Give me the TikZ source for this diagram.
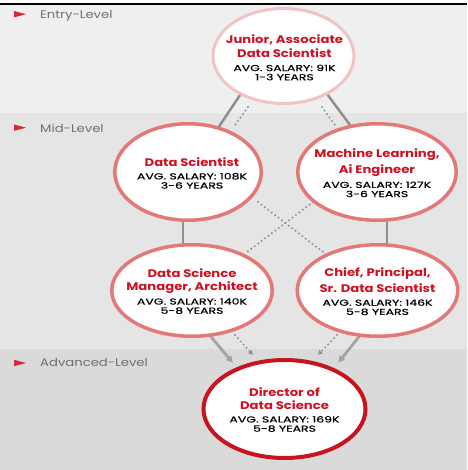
\documentclass[tikz,border=0pt]{standalone}
\usepackage{fontspec}
\setmainfont{Poppins}
\newfontfamily\infofont[FakeBold=0.5]{Poppins}
\usepackage{graphicx}
\usetikzlibrary{shapes.geometric,calc,arrows.meta}
\definecolor{tred}{HTML}{CC1122}
\definecolor{tri}{HTML}{D62B35}
\definecolor{lvltxt}{HTML}{707070}
\definecolor{entrybg}{HTML}{EFEFEF}
\definecolor{midbg}{HTML}{E5E5E5}
\definecolor{advbg}{HTML}{DADADA}
\definecolor{jrline}{HTML}{F0C4C4}
\definecolor{midline}{HTML}{E27878}
\definecolor{dirline}{HTML}{C8141E}
\definecolor{linkgray}{HTML}{8F8F8F}
\definecolor{arrowgray}{HTML}{A3A3A3}
\definecolor{dotgray}{HTML}{8E8E8E}
\newcommand{\ctitle}[1]{\scalebox{1.2}[1]{\fontsize{11}{11}\selectfont\bfseries #1}}
\newcommand{\cinfo}[1]{\scalebox{1.45}[1]{\infofont\fontsize{8.6}{9}\selectfont #1}}
\newcommand{\clevel}[1]{\scalebox{1.2}[1]{#1}}
\pgfdeclarelayer{bands}
\pgfdeclarelayer{links}
\pgfsetlayers{bands,links,main}
\begin{document}
\begin{tikzpicture}[x=1pt,y=-1pt,
  bub/.style={ellipse, draw, fill=white, inner sep=0pt},
  midbub/.style={bub, draw=midline, line width=3.5pt},
  txt/.style={align=center, inner sep=0pt, font=\fontsize{8}{9.2}\selectfont, text=black},
  lvl/.style={anchor=base west, inner sep=0pt, text=lvltxt, font=\fontsize{11}{12}\selectfont},
  solidlink/.style={draw=linkgray, line width=2.5pt, shorten <=-4pt, shorten >=-4pt},
  dotlink/.style={draw=dotgray, line width=2.2pt, line cap=round, dash pattern=on 0pt off 4.3pt},
  solidarrow/.style={draw=arrowgray, line width=2.8pt, shorten <=-4pt, -{Latex[length=7pt,width=8pt]}},
  dotarrow/.style={dotlink, -{Latex[length=4.5pt,width=5.5pt]}}]
\useasboundingbox (0,0) rectangle (467,470);
\begin{pgfonlayer}{bands}
\fill[white] (0,0) rectangle (467,3);
\fill[black] (0,3) rectangle (467,5.5);
\fill[entrybg] (0,5.5) rectangle (467,113);
\fill[midbg] (0,113) rectangle (467,349);
\fill[advbg] (0,349) rectangle (467,470);
\end{pgfonlayer}
% level markers
\fill[tri] (14,11) -- (26,14.2) -- (14,17.4) -- cycle;
\fill[tri] (14,124.5) -- (26,127.7) -- (14,130.9) -- cycle;
\fill[tri] (14,359.8) -- (26,363) -- (14,366.2) -- cycle;
\node[lvl] (lentry) at (40,18.6) {\clevel{Entry-Level}};
\node[lvl] (lmid) at (40,132.3) {\clevel{Mid-Level}};
\node[lvl] (ladv) at (40,366.6) {\clevel{Advanced-Level}};
% bubbles
\node[bub, draw=jrline, line width=3pt, minimum width=141pt, minimum height=95pt] (jr) at (283.5,56) {};
\node[midbub, minimum width=146.5pt, minimum height=96.5pt] (ds) at (188,172) {};
\node[midbub, minimum width=158.5pt, minimum height=96.5pt] (ml) at (377,172) {};
\node[midbub, minimum width=160.5pt, minimum height=91.5pt] (mgr) at (192,290.5) {};
\node[midbub, minimum width=160.5pt, minimum height=91.5pt] (chief) at (377.5,290.5) {};
\node[bub, draw=dirline, line width=4pt, minimum width=162pt, minimum height=98pt] (dir) at (284.5,409) {};
% texts
\node[txt] (jrt) at ($(jr)+(1,1.5)$) {\ctitle{\textcolor{tred}{Junior, Associate}}\\[3.1pt]\ctitle{\textcolor{tred}{Data Scientist}}\\[4pt]\cinfo{AVG. SALARY: 91K}\\\cinfo{1-3 YEARS}};
\node[txt] (dst) at ($(ds)+(4,1)$) {\ctitle{\textcolor{tred}{Data Scientist}}\\[4pt]\cinfo{AVG. SALARY: 108K}\\\cinfo{3-6 YEARS}};
\node[txt] (mlt) at ($(ml)+(0,1)$) {\ctitle{\textcolor{tred}{Machine Learning,}}\\[3.1pt]\ctitle{\textcolor{tred}{Ai Engineer}}\\[4pt]\cinfo{AVG. SALARY: 127K}\\\cinfo{3-6 YEARS}};
\node[txt] (mgrt) at ($(mgr)+(0,1)$) {\ctitle{\textcolor{tred}{Data Science}}\\[3.1pt]\ctitle{\textcolor{tred}{Manager, Architect}}\\[4pt]\cinfo{AVG. SALARY: 140K}\\\cinfo{5-8 YEARS}};
\node[txt] (chieft) at ($(chief)+(0,1)$) {\ctitle{\textcolor{tred}{Chief, Principal,}}\\[3.1pt]\ctitle{\textcolor{tred}{Sr. Data Scientist}}\\[4pt]\cinfo{AVG. SALARY: 146K}\\\cinfo{5-8 YEARS}};
\node[txt] (dirt) at ($(dir)+(0,1)$) {\ctitle{\textcolor{tred}{Director of}}\\[3.1pt]\ctitle{\textcolor{tred}{Data Science}}\\[4pt]\cinfo{AVG. SALARY: 169K}\\\cinfo{5-8 YEARS}};
% connectors
\begin{pgfonlayer}{links}
\draw[solidlink] ($(jr)+(-45.5,42)$) -- ($(ds)+(32,-47)$);
\draw[dotlink] ($(jr)+(-35.5,51)$) -- ($(ds)+(47,-47)$);
\draw[solidlink] ($(jr)+(46.5,42)$) -- ($(ml)+(-27,-47)$);
\draw[dotlink] ($(jr)+(38.5,51)$) -- ($(ml)+(-42,-47)$);
\draw[solidlink] ($(ds)+(-5,50)$) -- ($(mgr)+(-9,-47.5)$);
\draw[solidlink] ($(ml)+(10,50)$) -- ($(chief)+(9.5,-47.5)$);
\draw[dotlink] ($(ds)+(70,30)$) -- ($(chief)+(-54.5,-38.5)$);
\draw[dotlink] ($(ml)+(-64,30)$) -- ($(mgr)+(55,-38.5)$);
\draw[solidarrow] ($(mgr)+(20,47.5)$) -- ($(dir)+(-51.5,-46)$);
\draw[dotarrow] ($(mgr)+(43,44.5)$) -- ($(dir)+(-31.5,-54)$);
\draw[dotarrow] ($(chief)+(-40.5,44.5)$) -- ($(dir)+(33.5,-54)$);
\draw[solidarrow] ($(chief)+(-19.5,47.5)$) -- ($(dir)+(53.5,-46)$);
\end{pgfonlayer}
\end{tikzpicture}
\end{document}
